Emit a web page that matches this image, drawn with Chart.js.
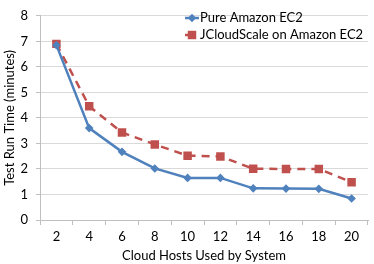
<!DOCTYPE html>
<html><head><meta charset="utf-8">
<script src="https://cdn.jsdelivr.net/npm/chart.js@4/dist/chart.umd.min.js"></script>
<style>html,body{margin:0;padding:0;background:#fff}#wrap{width:374px;height:264px}</style>
</head><body><div id="wrap"><canvas id="c" width="374" height="264"></canvas></div>
<script>
const categories = ['2','4','6','8','10','12','14','16','18','20'];
const pureEC2 = [6.85, 3.6, 2.67, 2.02, 1.65, 1.65, 1.24, 1.23, 1.22, 0.84];
const jcloudScale = [6.9, 4.46, 3.43, 2.96, 2.52, 2.49, 2.01, 2.0, 2.0, 1.48];
const seriesNames = ['Pure Amazon EC2', 'JCloudScale on Amazon EC2'];
const yTicks = [0,1,2,3,4,5,6,7,8];
const xTitle = 'Cloud Hosts Used by System';
const yTitle = 'Test Run Time (minutes)';

const FONT = 'Lato';
const BLUE = '#4F81BD', RED = '#C0504D';

const legendPlugin = {
  id: 'lineLegend',
  afterDraw(chart) {
    const ctx = chart.ctx;
    const rows = [
      {ds: chart.data.datasets[0], y: 18},
      {ds: chart.data.datasets[1], y: 35}
    ];
    ctx.save();
    rows.forEach(r => {
      const ds = r.ds;
      const x0 = 185, x1 = 199, xm = 192;
      ctx.strokeStyle = ds.borderColor;
      ctx.lineWidth = ds.borderWidth;
      ctx.setLineDash(ds.borderDash || []);
      ctx.beginPath(); ctx.moveTo(x0, r.y); ctx.lineTo(x1, r.y); ctx.stroke();
      ctx.setLineDash([]);
      ctx.fillStyle = ds.pointBackgroundColor;
      ctx.beginPath();
      if (ds.pointStyle === 'rectRot') {
        const rr = ds.pointRadius;
        ctx.moveTo(xm, r.y - rr); ctx.lineTo(xm + rr, r.y); ctx.lineTo(xm, r.y + rr); ctx.lineTo(xm - rr, r.y);
      } else {
        const s = ds.pointRadius * Math.SQRT1_2;
        ctx.rect(xm - s, r.y - s, 2*s, 2*s);
      }
      ctx.closePath(); ctx.fill();
      ctx.fillStyle = '#000';
      ctx.font = '13px ' + FONT;
      ctx.textBaseline = 'middle';
      ctx.textAlign = 'left';
      ctx.fillText(ds.label, 200, r.y);
    });
    ctx.restore();
  }
};

new Chart(document.getElementById('c'), {
  type: 'line',
  data: {
    labels: categories,
    datasets: [
      {label: seriesNames[0], data: pureEC2, borderColor: BLUE, backgroundColor: BLUE,
       pointBackgroundColor: BLUE, pointBorderColor: BLUE, borderWidth: 2.5, pointBorderWidth: 0,
       pointStyle: 'rectRot', pointRadius: 4.3, tension: 0},
      {label: seriesNames[1], data: jcloudScale, borderColor: RED, backgroundColor: RED,
       pointBackgroundColor: RED, pointBorderColor: RED, borderWidth: 2.5, borderDash: [8,6], pointBorderWidth: 0,
       pointStyle: 'rect', pointRadius: 6, tension: 0}
    ]
  },
  options: {
    responsive: false,
    animation: false,
    layout: {padding: {top: 8, right: 3, left: 0, bottom: 0}},
    plugins: {legend: {display: false}, tooltip: {enabled: false}},
    scales: {
      x: {
        offset: true,
        grid: {offset: true, drawOnChartArea: false, drawTicks: true, tickLength: 5, color: '#bfbfbf'},
        border: {color: '#bfbfbf', width: 1},
        ticks: {color: '#000', font: {family: FONT, size: 13}, padding: 4, maxRotation: 0},
        title: {display: true, text: xTitle, color: '#000', font: {family: FONT, size: 13}, padding: {top: -2, bottom: 0}},
        afterFit(s) { s.height = 44; }
      },
      y: {
        min: 0, max: 8,
        afterBuildTicks(s) { s.ticks = yTicks.map(v => ({value: v})); },
        grid: {color: '#d9d9d9', tickLength: 4, tickColor: '#bfbfbf'},
        border: {color: '#bfbfbf', width: 1},
        ticks: {color: '#000', font: {family: FONT, size: 13}, padding: 8},
        title: {display: true, text: yTitle, color: '#000', font: {family: FONT, size: 13}, padding: {top: 2, bottom: 0}},
        afterFit(s) { s.width = 40; }
      }
    }
  },
  plugins: [legendPlugin]
});
</script></body></html>
